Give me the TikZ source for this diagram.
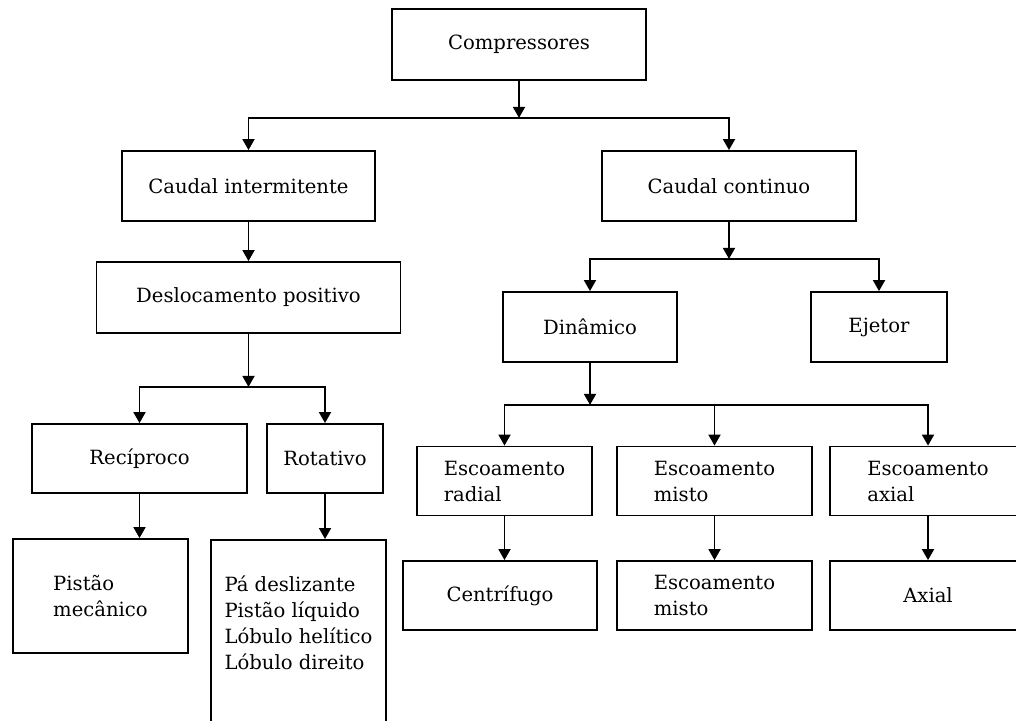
\documentclass[tikz,border=0pt]{standalone}
\usepackage{fontspec}
\setmainfont{DejaVu Serif}
\usetikzlibrary{arrows.meta, calc, positioning}

\begin{document}
\begin{tikzpicture}[
  x=1pt, y=-1pt,
  >={Triangle[length=11pt, width=12pt]},
  box/.style={draw, line width=1.8pt, minimum height=70pt, inner sep=4pt, align=left,
    font=\fontsize{19.6}{26}\selectfont},
  link/.style={->, line width=1.8pt},
]
  \useasboundingbox (0,0) rectangle (1016,720);

  \node[box, minimum width=254pt, minimum height=71pt] (comp) at (519,44.5) {Compressores};
  \node[box, minimum width=253pt] (ci) at (248.5,186) {Caudal intermitente};
  \node[box, minimum width=254pt] (cc) at (729,186) {Caudal continuo};
  \node[box, minimum width=304pt, minimum height=71pt] (dp) at (248.5,297.5) {Deslocamento positivo};
  \node[box, minimum width=174pt] (din) at (590,327) {Dinâmico};
  \node[box, minimum width=136pt] (ej) at (879,327) {Ejetor};

  \node[box, minimum width=215pt, minimum height=69pt] (rec) at (139.5,458.5) {Recíproco};
  \node[box, minimum width=116pt, minimum height=69pt] (rot) at (325,458.5) {Rotativo};
  \node[box, minimum width=175pt, minimum height=114pt] (pm) at (100.5,596) {Pistão\\mecânico};
  \node[box, minimum width=175pt, anchor=north, text height=126pt, text depth=64pt] (rl) at (298.5,539)
    {Pá deslizante\\Pistão líquido\\Lóbulo helítico\\Lóbulo direito};

  \node[box, minimum width=175pt, minimum height=69pt] (er) at (504.5,481) {Escoamento\\radial};
  \node[box, minimum width=195pt, minimum height=69pt] (em) at (714.5,481) {Escoamento\\misto};
  \node[box, minimum width=196pt, minimum height=69pt] (ea) at (928,481) {Escoamento\\axial};
  \node[box, minimum width=194pt, minimum height=69pt] (cf) at (500,595.5) {Centrífugo};
  \node[box, minimum width=195pt, minimum height=69pt] (em2) at (714.5,595.5) {Escoamento\\misto};
  \node[box, minimum width=196pt, minimum height=69pt] (ax) at (928,595.5) {Axial};

  % branch points
  \coordinate[below=37pt of comp] (b1);
  \coordinate[below=37pt of cc] (b2);
  \coordinate[below=53pt of dp] (b3);
  \coordinate[below=42pt of din] (b4);

  \draw[link] (comp) -- (b1);
  \draw[link] (b1) -| (ci);
  \draw[link] (b1) -| (cc);
  \draw[link] (ci) -- (dp);

  \draw[link] (cc) -- (b2);
  \draw[link] (b2) -| (din);
  \draw[link] (b2) -| (ej);

  \draw[link] (dp) -- (b3);
  \draw[link] (b3) -| (rec);
  \draw[link] (b3) -| (rot);
  \draw[link] (rec.south) -- (rec.south |- pm.north);
  \draw[link] (rot.south) -- (rot.south |- rl.north);

  \draw[link] (din) -- (b4);
  \foreach \n in {er, em, ea}
    \draw[link] (b4) -| (\n);
  \foreach \a/\b in {er/cf, em/em2, ea/ax}
    \draw[link] (\a.south) -- (\a.south |- \b.north);
\end{tikzpicture}
\end{document}
